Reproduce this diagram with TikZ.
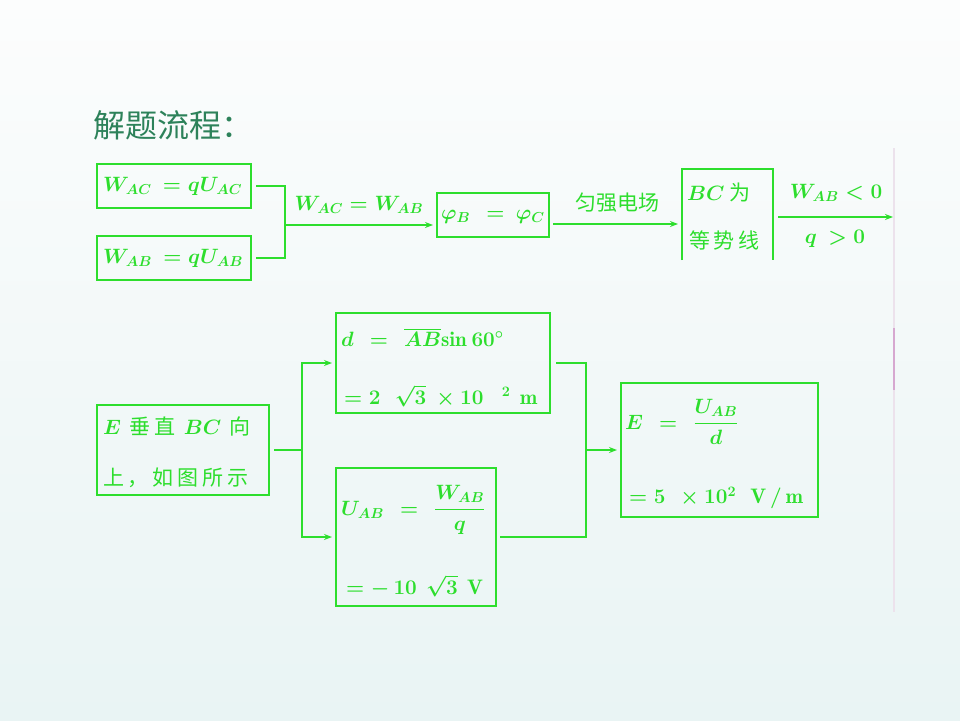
\documentclass[tikz,border=0pt]{standalone}
\usepackage{amsmath}
\usepackage{fontspec}
\newfontfamily\cjk{Noto Sans CJK SC}
\newfontfamily\cjkw[LetterSpace=18]{Noto Sans CJK SC}
\usetikzlibrary{arrows.meta}
\definecolor{gr}{RGB}{45,222,45}
\definecolor{tt}{RGB}{45,130,90}
\definecolor{bgtop}{RGB}{252,253,253}
\definecolor{bgbot}{RGB}{233,244,244}
\definecolor{sbar}{RGB}{236,226,236}
\definecolor{sbarp}{RGB}{214,168,208}
\begin{document}
\begin{tikzpicture}[x=1pt,y=-1pt,
  box/.style={inner sep=0pt,outer sep=0pt,anchor=north west},
  boxd/.style={box,draw=gr,line width=1.5pt},
  txt/.style={text=gr,inner sep=0pt,anchor=west,font=\fontsize{21}{25}\selectfont\cjk\boldmath},
  wtxt/.style={txt,font=\fontsize{21}{25}\selectfont\cjkw\boldmath},
  ctxt/.style={txt,anchor=center},
  ln/.style={draw=gr,line width=2pt},
  arr/.style={ln,-{Stealth[length=8pt,width=6pt]}}]
\shade[top color=bgtop,bottom color=bgbot] (0,0) rectangle (960,720);
\useasboundingbox (0,0) rectangle (960,720);

% title
\node[anchor=west,inner sep=0pt,text=tt,font=\fontsize{32}{36}\selectfont\cjk] (title) at (93,125) {解题流程：};

% scroll line
\draw[sbar,line width=2pt] (894,148) -- (894,612);
\draw[sbarp,line width=2pt] (894,328) -- (894,390);

% top row
\node[boxd,minimum width=154pt,minimum height=44pt] (b1) at (97,164) {};
\node[txt] (t1) at (103,186) {$W_{AC}\ = qU_{AC}$};
\node[boxd,minimum width=154pt,minimum height=44pt] (b2) at (97,236) {};
\node[txt] (t2) at (103,258) {$W_{AB}\ = qU_{AB}$};

\coordinate (j1) at (285,225);
\draw[ln] ([xshift=5pt]b1.east) -| (j1) |- ([xshift=5pt]b2.east);

\node[boxd,minimum width=112pt,minimum height=44pt] (b3) at (437,193) {};
\node[txt] (t3) at (441,217) {$\varphi_{B}\ \ =\ \varphi_{C}$};
\draw[arr,shorten >=4pt] (j1) -- (j1 -| b3.west);
\node[ctxt] (l1) at (359,205) {$W_{AC}=W_{AB}$};

\node[box,minimum width=91pt,minimum height=91pt] (b4) at (682,169) {};
\draw[ln,line width=1.5pt] (b4.south west) -- (b4.north west) -- (b4.north east) -- (b4.south east);
\node[txt] (t4a) at (687,192) {$BC$ 为};
\node[wtxt] (t4b) at (689,240) {等势线};

\coordinate (a2) at (553,224);
\draw[arr,shorten >=4pt] (a2) -- (a2 -| b4.west);
\node[ctxt] (l2) at (617,203) {匀强电场};

\coordinate (a3) at (778,217);
\coordinate (a3e) at (893,217);
\draw[arr] (a3) -- (a3e);
\node[ctxt] (l3a) at (836,193) {$W_{AB}<0$};
\node[ctxt] (l3b) at (835,239) {$q\ >0$};

% bottom
\node[boxd,minimum width=172pt,minimum height=90pt] (b5) at (97,405) {};
\node[wtxt] (t5a) at (103,426) {$E$ 垂直 $BC$ 向};
\node[wtxt] (t5b) at (103,478) {上，如图所示};

\node[boxd,minimum width=214pt,minimum height=100pt] (b6) at (336,313) {};
\node[txt] (t6a) at (341,337) {$d\ \ =\ \ \overline{AB}\mathrm{sin}\ 60^{\circ}$};
\node[txt] (t6b) at (344,396) {$=2\ \ \ \sqrt{3}\ \times 10^{\;\;\;\;2}\ \ \mathrm{m}$};

\node[boxd,minimum width=160pt,minimum height=138pt] (b7) at (336,468) {};
\node[txt] (t7a) at (341,510) {$U_{AB}\ \ =\ \ \dfrac{W_{AB}}{q}$};
\node[txt] (t7b) at (346,586) {$=-\,10\ \ \sqrt{3}\ \ \mathrm{V}$};

\coordinate (j2) at (302,450);
\draw[ln] ([xshift=5pt]b5.east) -- (b5.east -| j2);
\draw[arr,shorten >=4pt] (b5.east -| j2) |- (b6.west);
\draw[arr,shorten >=4pt] (b5.east -| j2) |- (b7.west);

\node[boxd,minimum width=197pt,minimum height=134pt] (b8) at (621,383) {};
\node[txt] (t8a) at (625,422) {$E\ \ =\ \ \dfrac{U_{AB}}{d}$};
\node[txt] (t8b) at (629,498) {$=5\ \ \times 10^{2}\ \ \ \mathrm{V\,/\,m}$};

\coordinate (j3) at (586,450);
\draw[ln] ([xshift=6pt]b6.east) -| (b8.west -| j3);
\draw[ln] ([xshift=4pt]b7.east) -| (b8.west -| j3);
\draw[arr,shorten >=4pt] (b8.west -| j3) -- (b8.west);
\end{tikzpicture}
\end{document}
